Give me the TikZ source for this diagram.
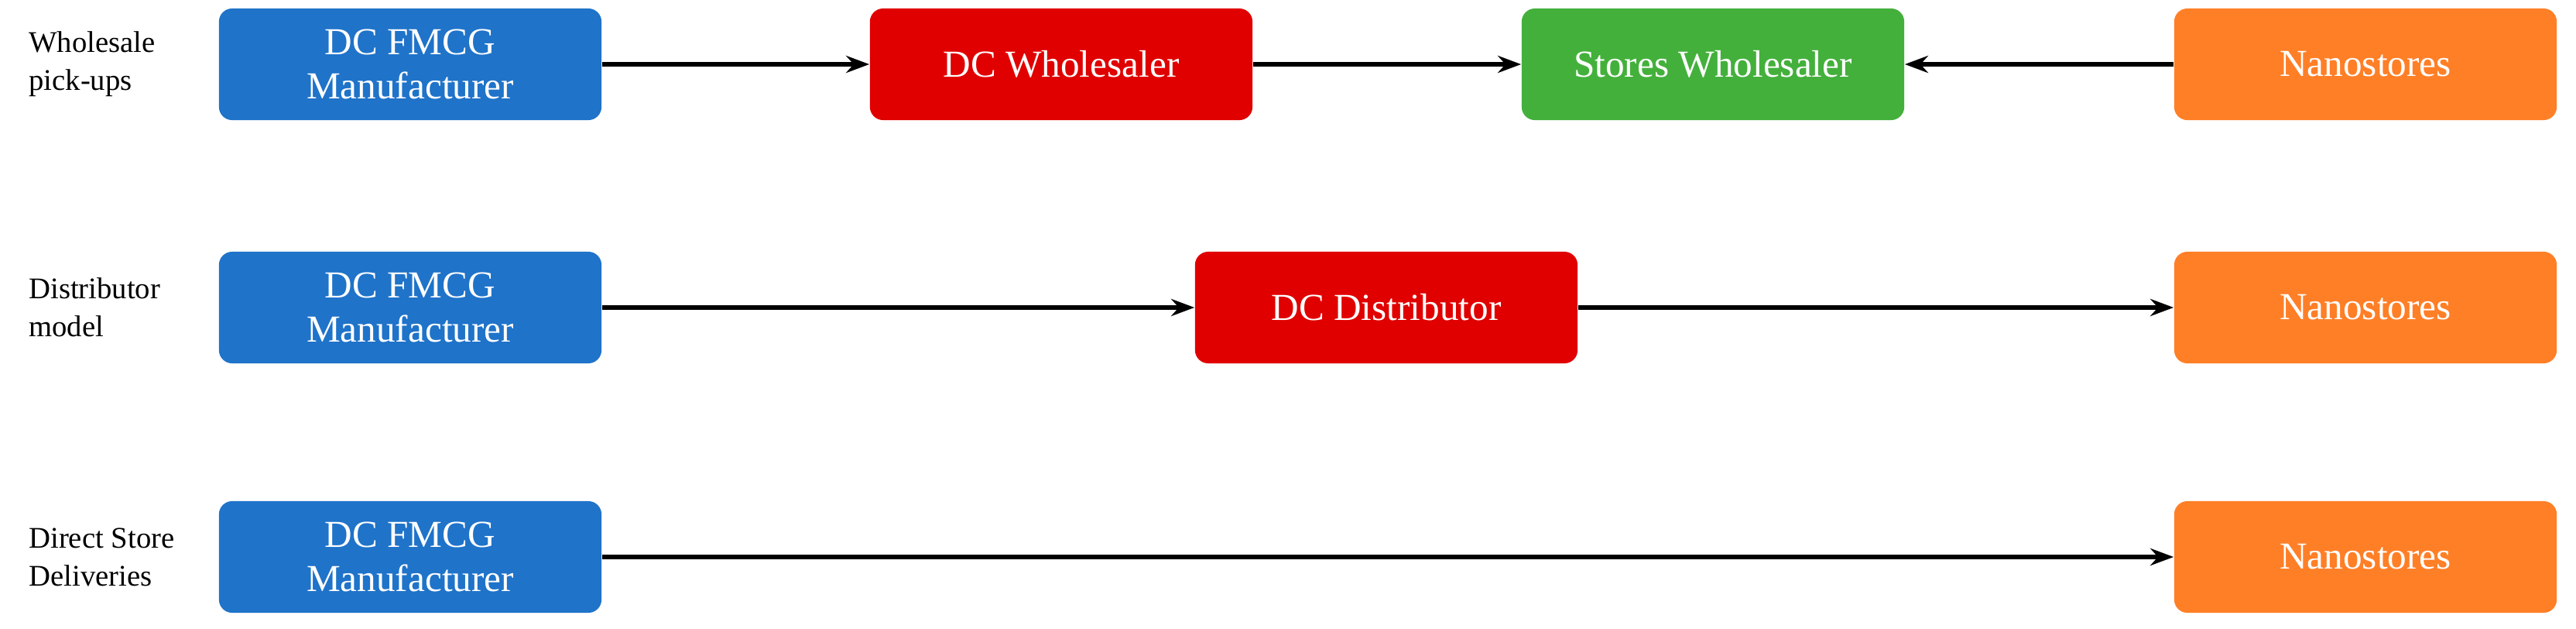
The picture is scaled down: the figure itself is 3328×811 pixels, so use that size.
\documentclass[tikz,border=0pt]{standalone}
\usepackage{fontspec}
\setmainfont{Liberation Serif}
\usetikzlibrary{arrows.meta}
\definecolor{cblue}{HTML}{1F73C9}
\definecolor{cred}{HTML}{E00000}
\definecolor{cgreen}{HTML}{44B03C}
\definecolor{corange}{HTML}{FF7F27}
\begin{document}
\begin{tikzpicture}[x=0.01cm,y=0.01cm,
 box/.style={rounded corners=0.17cm,minimum width=4.94cm,minimum height=1.44cm,text=white,font=\fontsize{14}{16}\selectfont,align=center,inner sep=0pt},
 lab/.style={anchor=west,align=left,font=\fontsize{11}{14}\selectfont},
 arr/.style={line width=1.7pt,-{Stealth[length=0.3cm,width=0.22cm]}}]
\useasboundingbox (0,0) rectangle (3328,811);
% row 1
\node[lab] (l1) at (25,728) {Wholesale\\pick-ups};
\node[box,fill=cblue] (m1) at (530,728) {DC FMCG\\Manufacturer};
\node[box,fill=cred] (w1) at (1371,728) {DC Wholesaler};
\node[box,fill=cgreen] (s1) at (2213,728) {Stores Wholesaler};
\node[box,fill=corange] (n1) at (3056,728) {Nanostores};
\draw[arr] (m1) -- (w1);
\draw[arr] (w1) -- (s1);
\draw[arr] (n1) -- (s1);
% row 2
\node[lab] (l2) at (25,414) {Distributor\\model};
\node[box,fill=cblue] (m2) at (530,414) {DC FMCG\\Manufacturer};
\node[box,fill=cred] (d2) at (1791,414) {DC Distributor};
\node[box,fill=corange] (n2) at (3056,414) {Nanostores};
\draw[arr] (m2) -- (d2);
\draw[arr] (d2) -- (n2);
% row 3
\node[lab] (l3) at (25,92) {Direct Store\\Deliveries};
\node[box,fill=cblue] (m3) at (530,92) {DC FMCG\\Manufacturer};
\node[box,fill=corange] (n3) at (3056,92) {Nanostores};
\draw[arr] (m3) -- (n3);
\end{tikzpicture}
\end{document}
